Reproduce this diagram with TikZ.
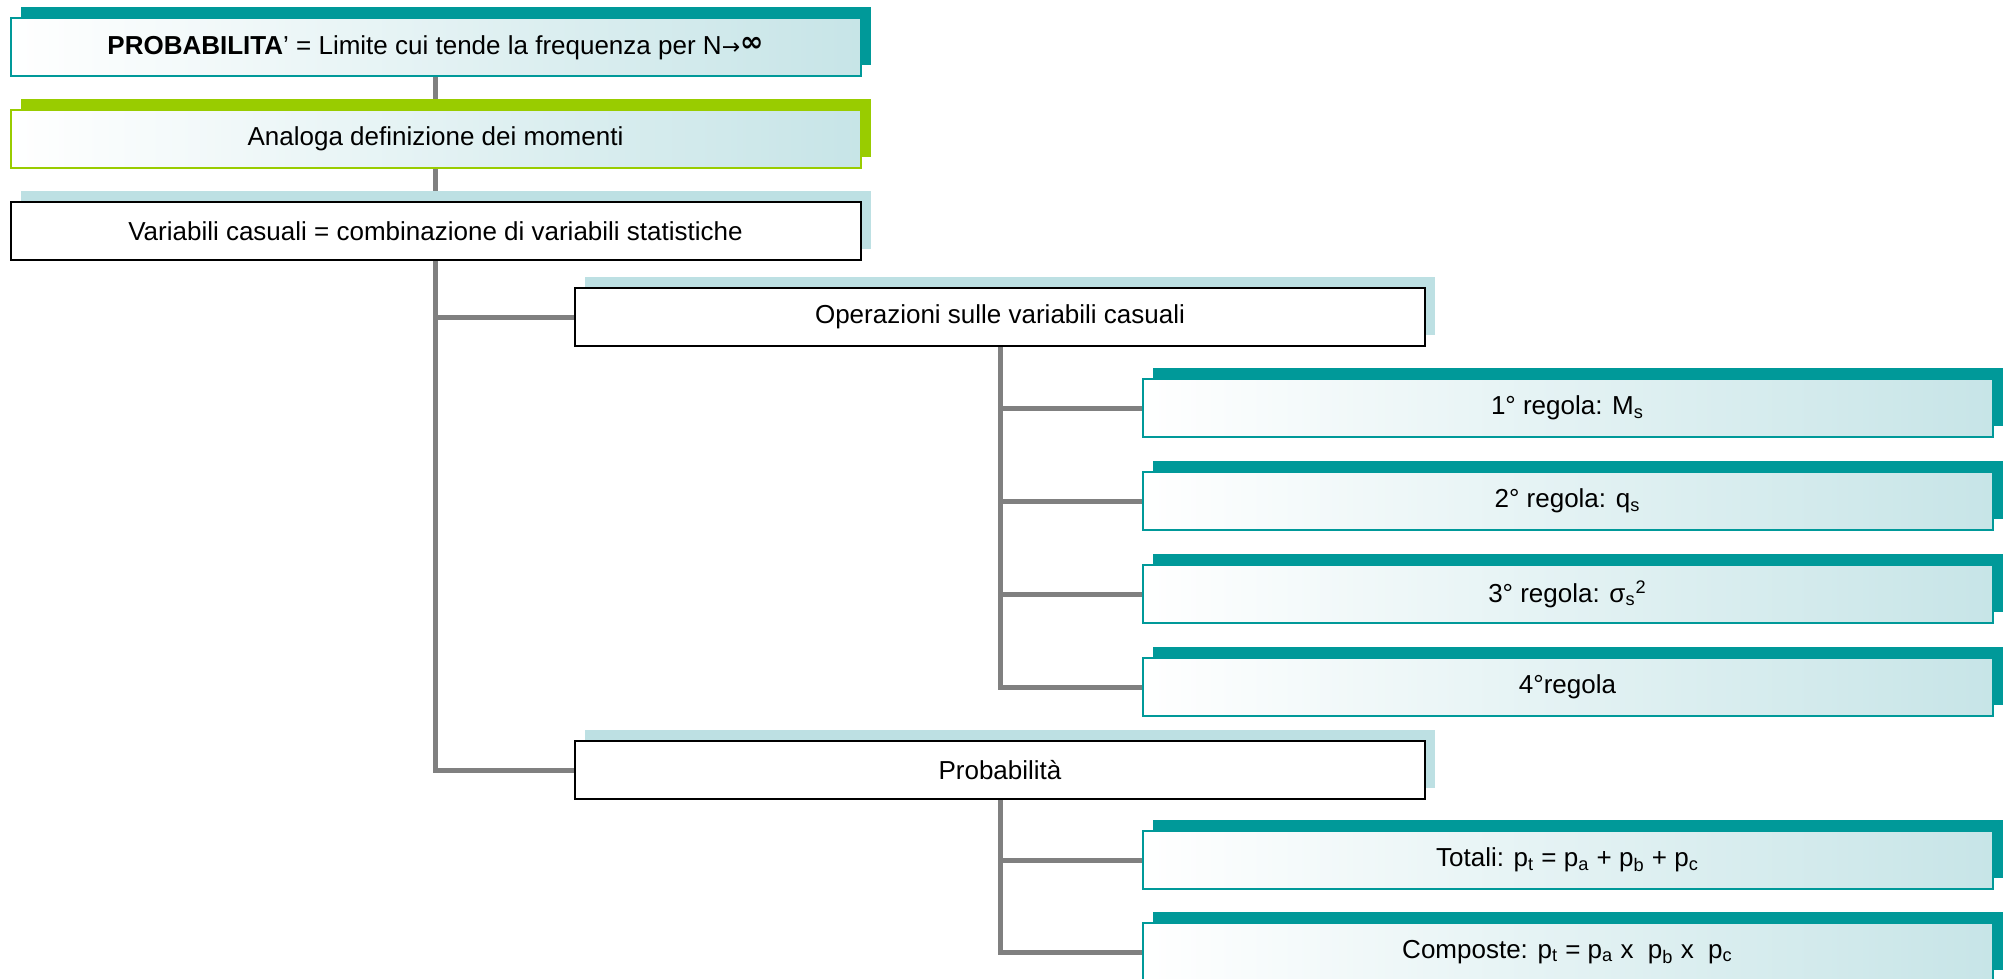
\documentclass[tikz,border=0pt]{standalone}
\usepackage{fontspec}
\setmainfont{Liberation Sans}
\newfontfamily\symfont{DejaVu Sans}
\usepackage{xcolor}
\usetikzlibrary{positioning,shadows,backgrounds}
\definecolor{tealbar}{RGB}{0, 153, 153}
\definecolor{greenbar}{RGB}{153, 204, 0}
\definecolor{paleblue}{RGB}{189, 224, 227}
\definecolor{linkgray}{RGB}{128, 128, 128}

\begin{document}
\begin{tikzpicture}[x=0.5pt, y=-0.5pt,
  card/.style={rectangle, minimum width=425pt, minimum height=29pt,
               inner sep=0pt, font=\fontsize{13pt}{15pt}\selectfont, line width=1pt},
  tealbox/.style={card, draw=tealbar, left color=white, right color=paleblue!85,
                  general shadow={shadow xshift=5pt, shadow yshift=5.5pt, fill=tealbar}},
  greenbox/.style={card, draw=greenbar, left color=white, right color=paleblue!85,
                   general shadow={shadow xshift=5pt, shadow yshift=5.5pt, fill=greenbar}},
  plainbox/.style={card, draw=black, fill=white,
                   general shadow={shadow xshift=5pt, shadow yshift=5.5pt, fill=paleblue}},
  link/.style={draw=linkgray, line width=2.5pt}
]
  \useasboundingbox (0,0) rectangle (2008,979);

  \node[tealbox] (prob) at (435.5,47.5)
    {\textbf{PROBABILITA}’ = Limite cui tende la frequenza per N{\symfont\fontsize{11pt}{13pt}\selectfont →}\raisebox{1.5pt}{\symfont\bfseries\fontsize{14pt}{15pt}\selectfont ∞}};
  \node[greenbox, below=15.75pt of prob]    (momenti) {Analoga definizione dei momenti};
  \node[plainbox, below=16pt of momenti]    (varcas)  {Variabili casuali = combinazione di variabili statistiche};

  \node[plainbox] (oper)   at (1000,317) {Operazioni sulle variabili casuali};
  \node[plainbox] (probab) at (1000,770) {Probabilità};

  \node[tealbox] (r1) at (1567.5,408)   {1° regola: M\textsubscript{s}};
  \node[tealbox, below=16.5pt of r1] (r2) {2° regola: q\textsubscript{s}};
  \node[tealbox, below=16.5pt of r2] (r3) {3° regola: σ\textsubscript{s}\textsuperscript{2}};
  \node[tealbox, below=16.5pt of r3] (r4) {4°regola};

  \node[tealbox] (tot) at (1567.5,860)
    {Totali: p\textsubscript{t} = p\textsubscript{a} + p\textsubscript{b} + p\textsubscript{c}};
  \node[tealbox, below=16pt of tot] (comp)
    {Composte: p\textsubscript{t} = p\textsubscript{a} x\ \ p\textsubscript{b} x\ \ p\textsubscript{c}};

  \begin{scope}[on background layer]
    \draw[link] (prob) -- (momenti);
    \draw[link] (momenti) -- (varcas);
    \draw[link] (varcas.south) |- (oper.west);
    \draw[link] (varcas.south) |- (probab.west);
    \foreach \r in {r1,r2,r3,r4}
      \draw[link] (oper.south) |- (\r.west);
    \draw[link] (probab.south) |- (tot.west);
    \draw[link] (probab.south) |- (comp.west);
  \end{scope}
\end{tikzpicture}
\end{document}
